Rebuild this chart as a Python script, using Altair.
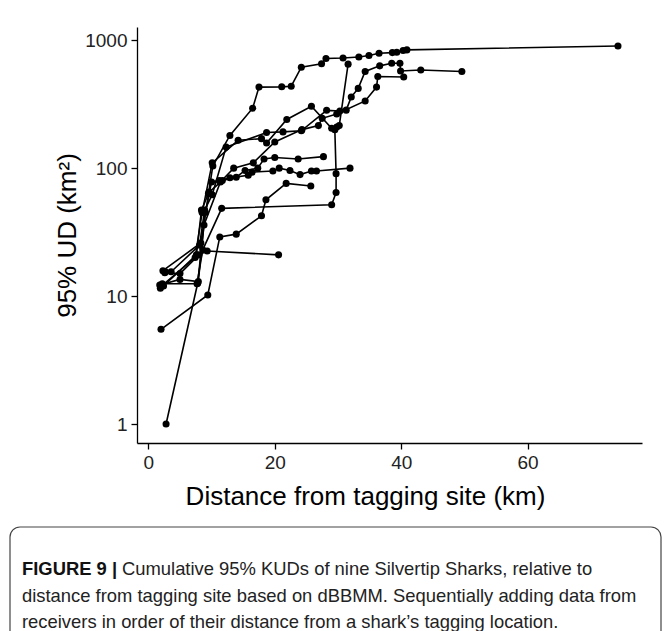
import altair as alt
import pandas as pd

# ---- data (distance km, cumulative 95% UD km^2) ----
s1_x = [1.9, 2.4, 7.6, 8.4, 9.5, 10.2, 12.9, 16.5, 17.5, 21.1, 22.6, 24.2, 27.4, 28.1, 30.8, 33.3, 34.9, 36.5, 38.6, 39.3, 40.3, 40.9, 74.3]
s1_y = [11.5, 12.0, 21, 47, 63, 104, 180, 294, 430, 432, 437, 615, 655, 720, 725, 740, 760, 790, 800, 805, 830, 840, 900]

s2_x = [2.7, 3.6, 8.1, 8.9, 10.1, 12.3, 18.7, 21.3, 24.2, 28.2, 30.3, 31.3, 32.1, 33.2, 34.3, 36.6, 38.5, 39.8, 39.9, 43.1, 49.6]
s2_y = [15.5, 15.5, 25, 47, 62, 146, 190, 192, 196, 283, 280, 284, 360, 420, 570, 630, 660, 660, 575, 585, 570]

s3_x = [1.8, 5.0, 7.9, 8.8, 11.4, 13.5, 16.6, 20.0, 24.3, 26.9, 27.5, 29.8, 34.3, 36.1, 36.3, 40.4]
s3_y = [12.2, 13.5, 13.0, 36, 78, 100, 110, 160, 200, 215, 245, 265, 335, 430, 520, 515]

s4_x = [2.2, 7.7, 8.6, 11.6, 29.0, 29.7, 29.7, 29.5, 30.2, 31.6]
s4_y = [12.5, 12.5, 23, 48.5, 51.7, 64.5, 90.6, 200, 215, 650]

s5_x = [2.6, 5.0, 8.0, 9.3, 20.6]
s5_y = [15.2, 15.0, 21, 22.5, 21]

s6_x = [2.0, 9.4, 11.3, 13.9, 17.9, 18.6, 21.8, 25.7]
s6_y = [5.5, 10.2, 29, 30.5, 42.4, 56.6, 76, 72.5]

s7_x = [2.8, 7.8, 9.0, 10.0, 11.2, 12.9, 15.8, 16.4, 19.7, 20.7, 22.4, 24.0, 25.8, 26.6, 31.9]
s7_y = [1.0, 12.6, 45, 78, 80, 84, 88, 93, 95, 100, 96, 89, 95, 95, 100]

s8_x = [2.3, 8.3, 9.6, 11.7, 13.9, 15.3, 17.3, 18.3, 20.0, 23.7, 27.7]
s8_y = [15.8, 26, 65, 80, 85, 96, 100, 118, 121, 118, 123]

s9_x = [2.1, 7.4, 8.5, 10.1, 14.2, 17.9, 18.7, 21.9, 25.8, 29.0, 29.8]
s9_y = [12.0, 20, 45, 110, 165, 170, 157, 240, 305, 205, 210]

series = [(s1_x, s1_y), (s2_x, s2_y), (s3_x, s3_y), (s4_x, s4_y), (s5_x, s5_y),
          (s6_x, s6_y), (s7_x, s7_y), (s8_x, s8_y), (s9_x, s9_y)]

x_ticks = [0, 20, 40, 60]
y_ticks = [1, 10, 100, 1000]

caption_bold = "FIGURE 9 |"
caption_lines = [
    "Cumulative 95% KUDs of nine Silvertip Sharks, relative to",
    "distance from tagging site based on dBBMM. Sequentially adding data from",
    "receivers in order of their distance from a shark\u2019s tagging location.",
]

rows = []
for sid, (xs, ys) in enumerate(series):
    for i, (xv, yv) in enumerate(zip(xs, ys)):
        rows.append({"shark": f"S{sid+1}", "idx": i, "dist": xv, "ud": yv})
df = pd.DataFrame(rows)

FONT = "Liberation Sans"

x_enc = alt.X("dist:Q",
              scale=alt.Scale(domain=[-1.8, 78.1], nice=False, zero=False),
              axis=alt.Axis(values=x_ticks, title="Distance from tagging site (km)", grid=False,
                            titleX=228, titleAnchor="start", titleAlign="center"))
y_enc = alt.Y("ud:Q",
              scale=alt.Scale(type="log", domain=[0.711, 1268], nice=False),
              axis=alt.Axis(values=y_ticks, format="d", title="95% UD (km\u00b2)", grid=False))

lines = alt.Chart(df).mark_line(color="black", strokeWidth=1.6).encode(
    x=x_enc, y=y_enc, detail="shark:N", order=alt.Order("idx:Q"))
points = alt.Chart(df).mark_circle(color="black", opacity=1, size=50).encode(
    x="dist:Q", y="ud:Q")

one = alt.Data(values=[{"k": 1}])
box = alt.Chart(one).mark_rect(fill="white", fillOpacity=0, stroke="#444444",
                               strokeWidth=1.2, cornerRadius=10).encode(
    x=alt.value(-127), x2=alt.value(524), y=alt.value(500), y2=alt.value(660))

CAP = 18.4
cap_bold = alt.Chart(one).mark_text(align="left", baseline="middle", font=FONT,
                                    fontSize=CAP, fontWeight="bold", color="#111111").encode(
    x=alt.value(-115), y=alt.value(542), text=alt.value(caption_bold))
cap1 = alt.Chart(one).mark_text(align="left", baseline="middle", font=FONT,
                                fontSize=CAP, color="#222222").encode(
    x=alt.value(-15), y=alt.value(542), text=alt.value(caption_lines[0]))
cap2 = alt.Chart(one).mark_text(align="left", baseline="middle", font=FONT,
                                fontSize=CAP, color="#222222").encode(
    x=alt.value(-115), y=alt.value(569), text=alt.value(caption_lines[1]))
cap3 = alt.Chart(one).mark_text(align="left", baseline="middle", font=FONT,
                                fontSize=CAP, color="#222222").encode(
    x=alt.value(-115), y=alt.value(595), text=alt.value(caption_lines[2]))

chart = alt.layer(lines, points, box, cap_bold, cap1, cap2, cap3).properties(
    width=505, height=416,
    autosize=alt.AutoSizeParams(type="none"),
    padding={"left": 129, "top": 19, "right": 20, "bottom": 188},
).configure_view(stroke=None).configure_axis(
    domainColor="black", domainWidth=1.3, tickColor="black", tickWidth=1.3, tickSize=6,
    labelFont=FONT, labelFontSize=19, labelColor="#222222", labelPadding=4,
    titleFont=FONT, titleFontSize=26, titleFontWeight="normal", titleColor="black",
).configure_axisX(titlePadding=11).configure_axisY(titlePadding=4)

chart.save("out.html", embed_options={"renderer": "svg", "actions": False})
